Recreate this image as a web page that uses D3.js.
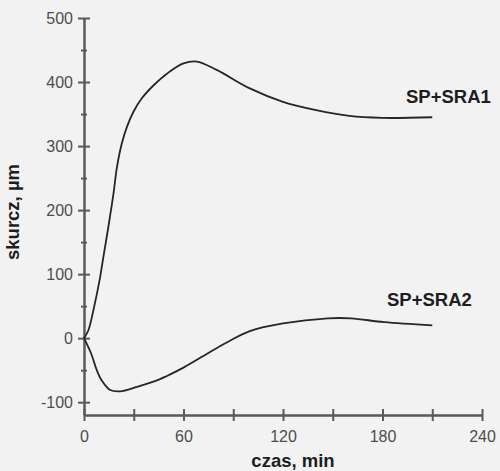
<!DOCTYPE html>
<html>
<head>
<meta charset="utf-8">
<script src="https://cdn.jsdelivr.net/npm/d3@7"></script>
<style>
  body { margin: 0; background: #f2f2f2; }
  svg { display: block; background: #f2f2f2; }
  text { font-family: Arial, "Liberation Sans", sans-serif; }
</style>
</head>
<body>
<svg width="500" height="471"></svg>
<script>
// czas (min) and skurcz (um)
var time1 = [0, 2.6, 5.7, 9.7, 11.7, 14.7, 17.8, 19.8, 22.8, 25.9, 29.9, 35, 42, 50, 60, 68, 80, 100, 120, 140, 160, 180, 210]
var sra1  = [0, 12, 44, 95, 127, 174, 226, 266, 304, 330, 354, 375, 395, 413, 429, 432, 419, 390, 369, 356, 347, 344, 345]

var time2 = [0, 4.3, 7.7, 10.7, 15.8, 21.8, 32, 44, 50, 60, 74.5, 86.6, 100, 120, 147, 161, 181, 210]
var sra2  = [0, -24, -50, -66, -81, -83, -76, -66, -59, -46, -24, -6, 11, 23, 31, 31, 25, 20]

var seriesNames = ['SP+SRA1', 'SP+SRA2']

var xTicks = [0, 30, 60, 90, 120, 150, 180, 210, 240]
var xLabels = [0, 60, 120, 180, 240]
var yTicks = [-100, -50, 0, 50, 100, 150, 200, 250, 300, 350, 400, 450, 500]
var yLabels = [-100, 0, 100, 200, 300, 400, 500]

var svg = d3.select('svg')

var x_scale = d3.scaleLinear()
    .domain([0, 240])
    .range([84, 482])

var y_scale = d3.scaleLinear()
    .domain([-120, 500])
    .range([415, 18])

var axisColor = '#5a5a5a'

// x axis
var x_axis = d3.axisBottom()
    .scale(x_scale)
    .tickValues(xTicks)
    .tickSizeOuter(0)
    .tickFormat(function (d) { return xLabels.indexOf(d) >= 0 ? d : '' })

var gx = svg.append('g')
    .attr('transform', 'translate(0,' + y_scale(-120) + ')')
    .call(x_axis)
gx.select('.domain').attr('stroke', axisColor).attr('stroke-width', 2.5)
gx.selectAll('.tick line')
    .attr('y1', -6).attr('y2', 6)
    .attr('stroke', axisColor).attr('stroke-width', 2)
gx.selectAll('.tick text')
    .attr('y', 16)
    .attr('dy', '0.71em')
    .attr('fill', '#4d4d4d')
    .style('font-size', '16px')

// y axis
var y_axis = d3.axisLeft()
    .scale(y_scale)
    .tickValues(yTicks)
    .tickSizeOuter(0)
    .tickFormat(function (d) { return yLabels.indexOf(d) >= 0 ? d : '' })

var gy = svg.append('g')
    .attr('transform', 'translate(' + x_scale(0) + ',0)')
    .call(y_axis)
gy.select('.domain').attr('stroke', axisColor).attr('stroke-width', 2.5)
gy.selectAll('.tick line')
    .attr('x1', function (d) { return yLabels.indexOf(d) >= 0 ? -6 : -3 })
    .attr('x2', function (d) { return yLabels.indexOf(d) >= 0 ? 6 : 3 })
    .attr('stroke', axisColor).attr('stroke-width', 2)
gy.selectAll('.tick text')
    .attr('x', -11)
    .attr('fill', '#4d4d4d')
    .style('font-size', '16px')
svg.selectAll('.tick text').attr('font-family', null)

// curves
var line = d3.line()
    .x(function (d) { return x_scale(d[0]) })
    .y(function (d) { return y_scale(d[1]) })
    .curve(d3.curveCatmullRom.alpha(0.5))

var curves = [d3.zip(time1, sra1), d3.zip(time2, sra2)]

svg.selectAll('path.curve')
    .data(curves)
    .enter()
    .append('path')
    .attr('class', 'curve')
    .attr('d', line)
    .attr('fill', 'none')
    .attr('stroke', '#262626')
    .attr('stroke-width', 1.8)

// series labels
svg.append('text')
    .attr('x', 406).attr('y', 103)
    .style('font-size', '18.5px').style('font-weight', 'bold')
    .attr('fill', '#1e1e1e')
    .text(seriesNames[0])

svg.append('text')
    .attr('x', 387).attr('y', 306)
    .style('font-size', '18.5px').style('font-weight', 'bold')
    .attr('fill', '#1e1e1e')
    .text(seriesNames[1])

// axis titles
svg.append('text')
    .attr('x', 293).attr('y', 467)
    .attr('text-anchor', 'middle')
    .style('font-size', '18.5px').style('font-weight', 'bold')
    .attr('fill', '#1e1e1e')
    .text('czas, min')

svg.append('text')
    .attr('transform', 'translate(19,212) rotate(-90)')
    .attr('text-anchor', 'middle')
    .style('font-size', '18.5px').style('font-weight', 'bold')
    .attr('fill', '#1e1e1e')
    .text('skurcz, µm')
</script>
</body>
</html>
